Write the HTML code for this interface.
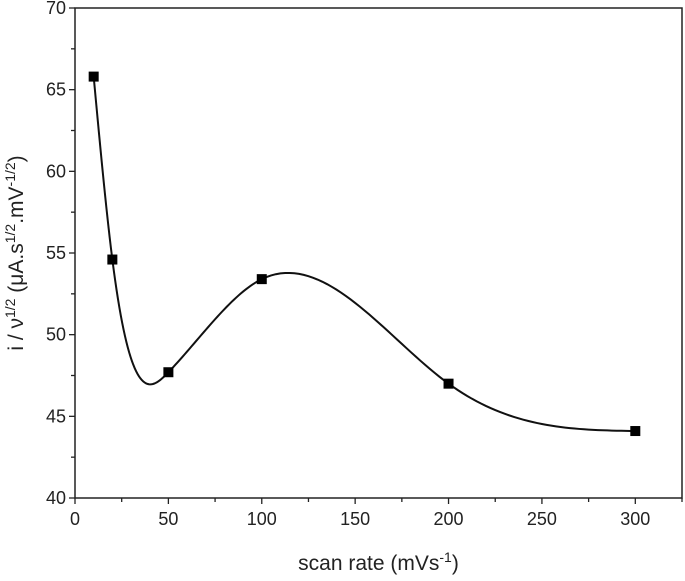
<!DOCTYPE html>
<html><head><meta charset="utf-8"><style>
html,body{margin:0;padding:0;background:#fff;width:685px;height:581px;overflow:hidden}
text{font-family:"Liberation Sans",Arial,sans-serif;fill:#222}
</style></head><body>
<svg id="chart" width="685" height="581" xmlns="http://www.w3.org/2000/svg"></svg>
<script>
const xs=[10,20,50,100,200,300];
const ys=[65.8,54.6,47.7,53.4,47.0,44.1];
const xTicks=[0,50,100,150,200,250,300];
const yTicks=[40,45,50,55,60,65,70];
const L=75,R=682,T=8,B=498,XMAX=325;
const X=v=>L+v*(R-L)/XMAX, Y=v=>B-(v-40)*(B-T)/30;
const svg=document.getElementById('chart');const NS='http://www.w3.org/2000/svg';
function mk(t,a,p){const e=document.createElementNS(NS,t);for(const k in a)e.setAttribute(k,a[k]);(p||svg).appendChild(e);return e;}
const frame=mk('rect',{x:L,y:T,width:R-L,height:B-T,fill:'none',stroke:'#222','stroke-width':1.5});


for(let v=0;v<=XMAX;v+=25){const maj=v%50==0;const t=mk('line',{x1:X(v),x2:X(v),y1:B,y2:B+(maj?6:4),stroke:'#222','stroke-width':1.3});

}
for(let v=40;v<=70;v+=2.5){const maj=v%5==0;const t=mk('line',{x1:L,x2:L-(maj?6:4),y1:Y(v),y2:Y(v),stroke:'#222','stroke-width':1.3});

}
xTicks.forEach(v=>{const t=mk('text',{x:X(v),y:B+27,'font-size':18,'text-anchor':'middle'});t.textContent=v;

});
yTicks.forEach(v=>{const t=mk('text',{x:L-9,y:Y(v)+6,'font-size':18,'text-anchor':'end'});t.textContent=v;

});
const xt=mk('text',{x:(L+R)/2,y:570,'font-size':21,'text-anchor':'middle'});
xt.innerHTML='scan rate (mVs<tspan dy="-8" font-size="14">-1</tspan><tspan dy="8">)</tspan>';


const yt=mk('text',{transform:'translate(23,253) rotate(-90)','font-size':21,'text-anchor':'middle'});
yt.innerHTML='i / ν<tspan dy="-8" font-size="14">1/2</tspan><tspan dy="8"> (μA.s</tspan><tspan dy="-8" font-size="14">1/2</tspan><tspan dy="8">.mV</tspan><tspan dy="-8" font-size="14">-1/2</tspan><tspan dy="8">)</tspan>';


const n=xs.length,h=[],al=[],l=[1],mu=[0],z=[0],c=new Array(n).fill(0),b=[],d=[];
for(let i=0;i<n-1;i++)h[i]=xs[i+1]-xs[i];
for(let i=1;i<n-1;i++)al[i]=3/h[i]*(ys[i+1]-ys[i])-3/h[i-1]*(ys[i]-ys[i-1]);
for(let i=1;i<n-1;i++){l[i]=2*(xs[i+1]-xs[i-1])-h[i-1]*mu[i-1];mu[i]=h[i]/l[i];z[i]=(al[i]-h[i-1]*z[i-1])/l[i];}
l[n-1]=1;z[n-1]=0;
for(let j=n-2;j>=0;j--){c[j]=z[j]-mu[j]*c[j+1];b[j]=(ys[j+1]-ys[j])/h[j]-h[j]*(c[j+1]+2*c[j])/3;d[j]=(c[j+1]-c[j])/(3*h[j]);}
let dpath='';
for(let i=0;i<n-1;i++){for(let k=0;k<=40;k++){const t=h[i]*k/40;const v=ys[i]+b[i]*t+c[i]*t*t+d[i]*t*t*t;dpath+=(dpath?'L':'M')+X(xs[i]+t).toFixed(2)+','+Y(v).toFixed(2);}}
const p=mk('path',{d:dpath,fill:'none',stroke:'#111','stroke-width':2});


xs.forEach((x,i)=>{const r=mk('rect',{x:X(x)-5,y:Y(ys[i])-5,width:10,height:10,fill:'#000'});

});
</script>
</body></html>
